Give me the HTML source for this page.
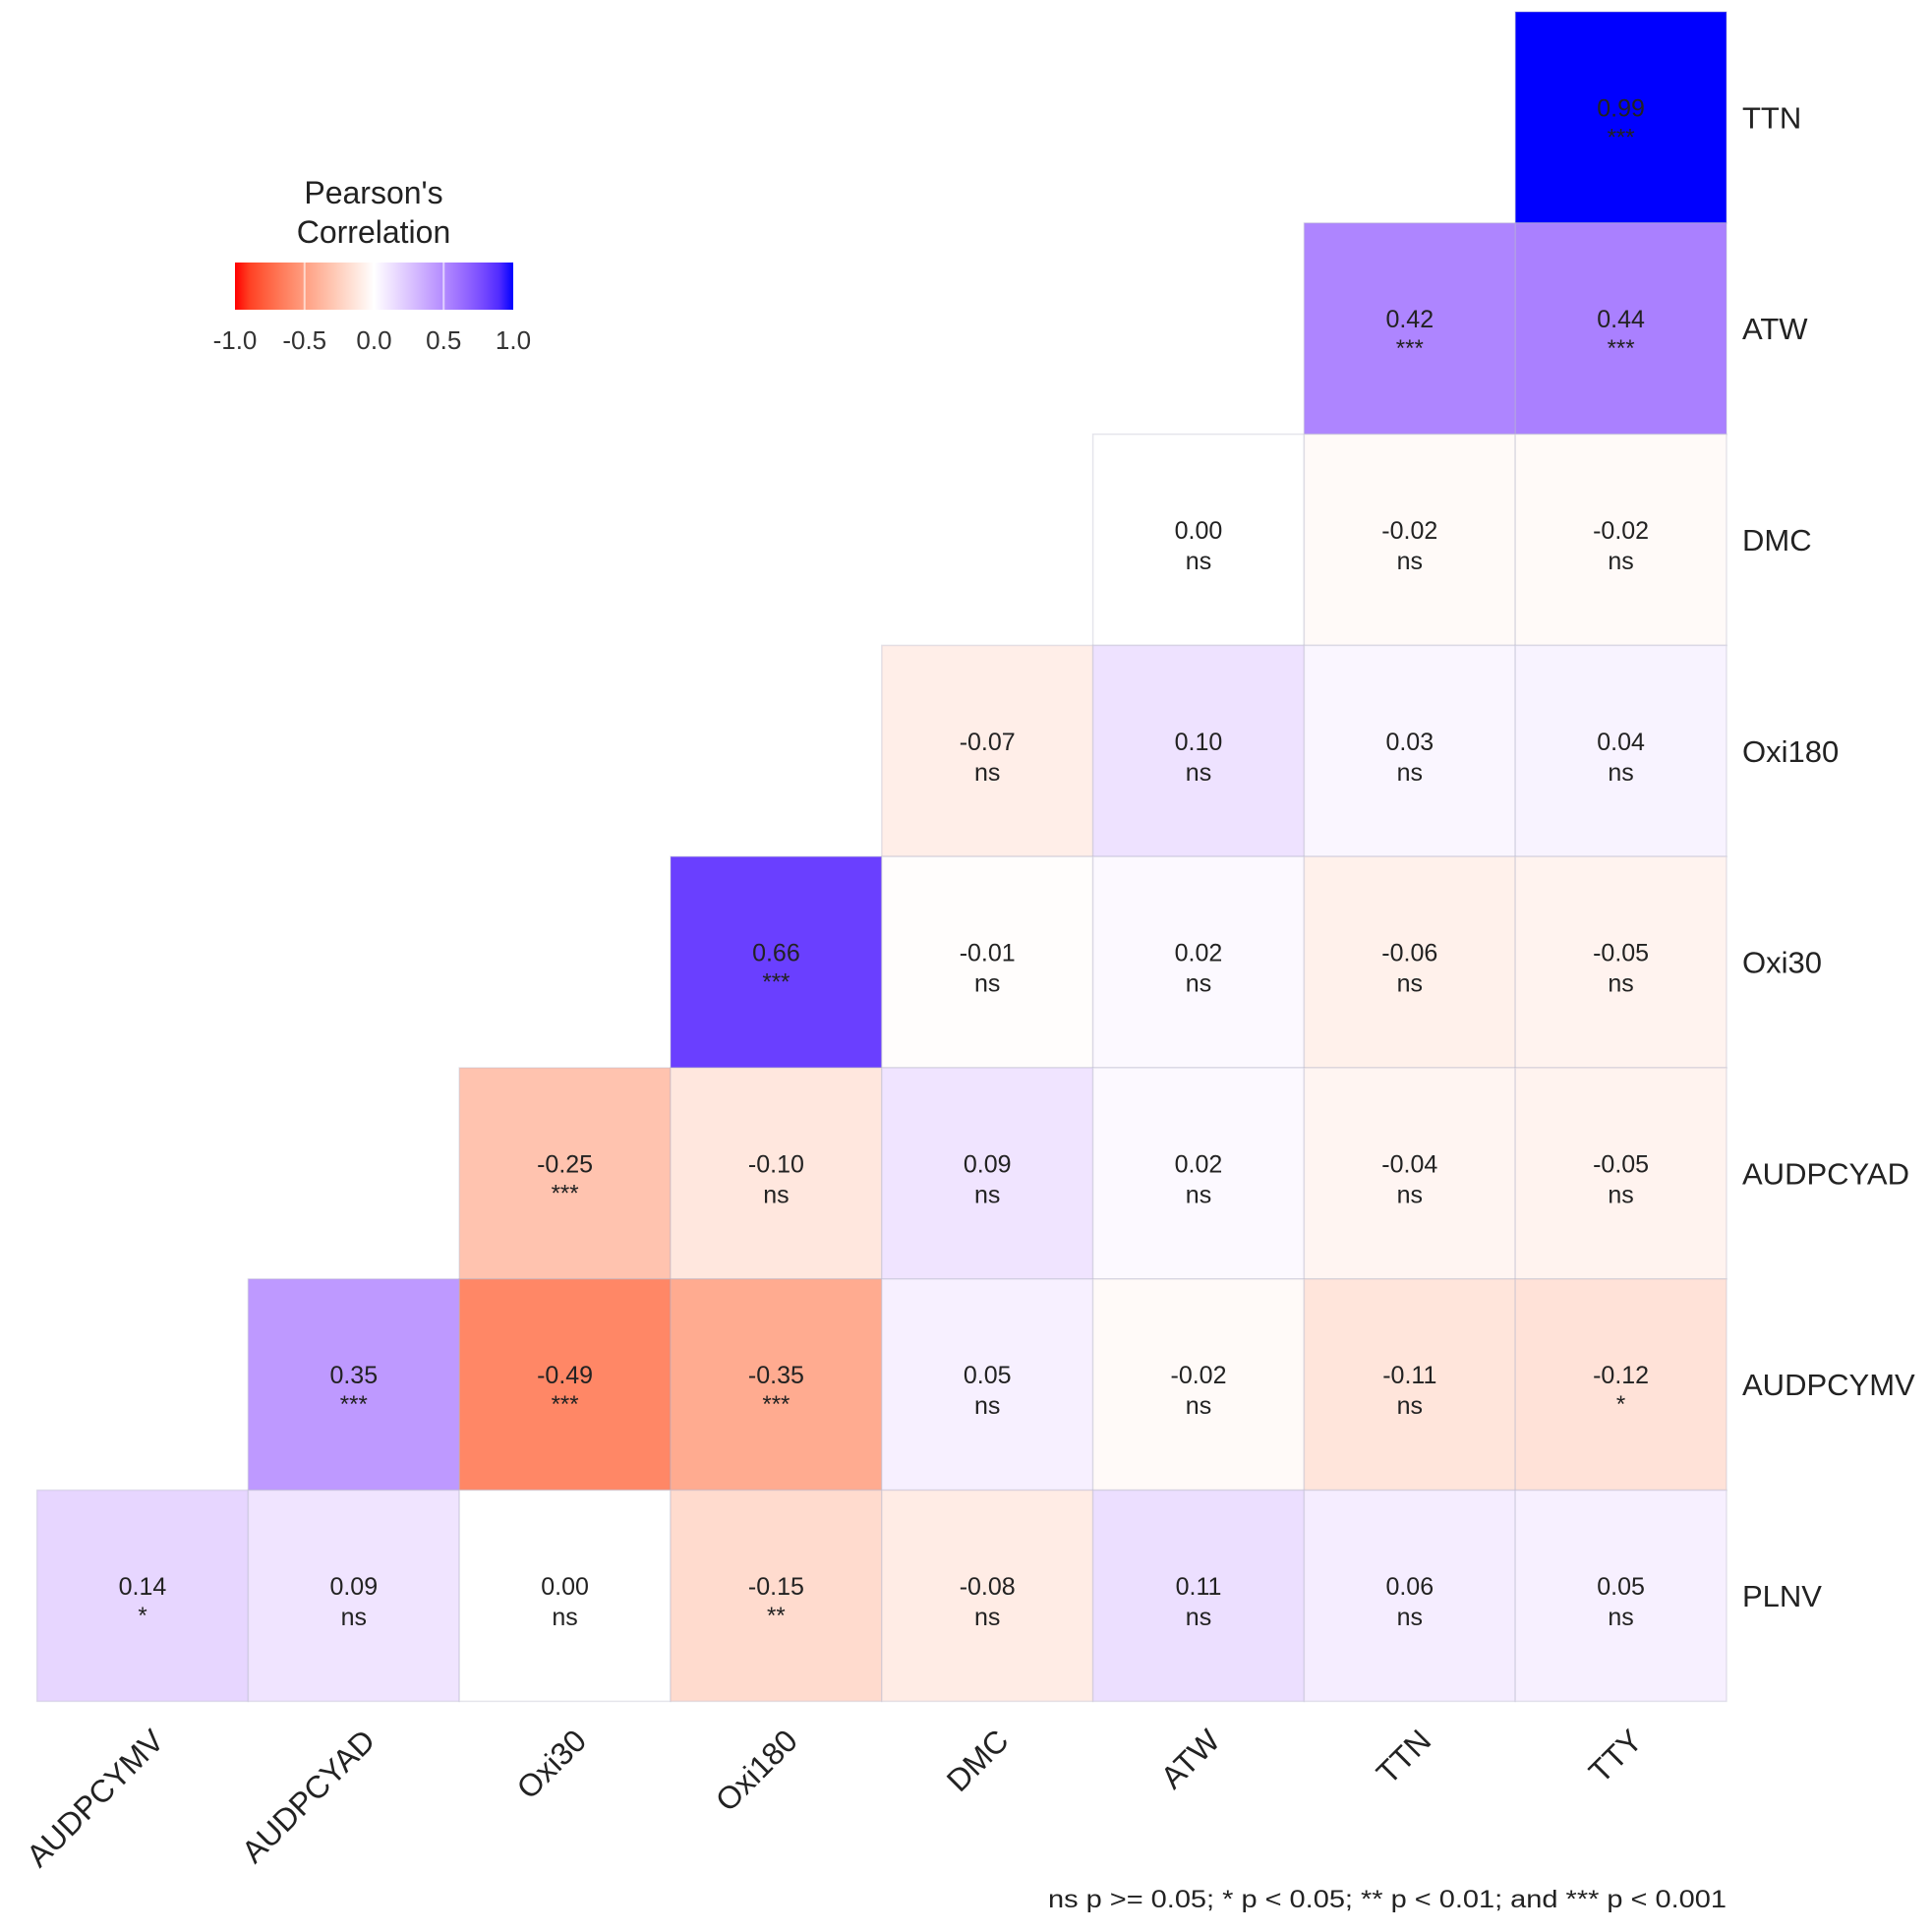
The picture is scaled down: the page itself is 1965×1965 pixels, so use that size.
<!DOCTYPE html>
<html><head><meta charset="utf-8"><style>
html,body{margin:0;padding:0;background:#fff;}
svg{display:block;font-family:"Liberation Sans",sans-serif;}
</style></head><body>
<svg id="chart" width="1965" height="1965" viewBox="0 0 1965 1965" xmlns="http://www.w3.org/2000/svg">
<g id="cells"></g>
<g id="xlabels"></g>
<g id="ylabels"></g>
<g id="legend">
<defs><linearGradient id="grad" x1="0" x2="1" y1="0" y2="0"></linearGradient></defs>
<text x="380" y="207" font-size="32" text-anchor="middle" fill="#222">Pearson's</text>
<text x="380" y="247" font-size="32" text-anchor="middle" fill="#222">Correlation</text>
<rect x="239" y="267" width="283" height="48" fill="url(#grad)"/>
<g id="legticks"></g>
</g>
<text x="1756" y="1940" font-size="25" text-anchor="end" fill="#222" textLength="690" lengthAdjust="spacingAndGlyphs">ns p &gt;= 0.05; * p &lt; 0.05; ** p &lt; 0.01; and *** p &lt; 0.001</text>
</svg>
<script>
const colLabels = ["AUDPCYMV","AUDPCYAD","Oxi30","Oxi180","DMC","ATW","TTN","TTY"];
const rowLabels = ["TTN","ATW","DMC","Oxi180","Oxi30","AUDPCYAD","AUDPCYMV","PLNV"];
const rowTTN = [0.99];
const rowATW = [0.42,0.44];
const rowDMC = [0.00,-0.02,-0.02];
const rowOxi180 = [-0.07,0.10,0.03,0.04];
const rowOxi30 = [0.66,-0.01,0.02,-0.06,-0.05];
const rowAUDPCYAD = [-0.25,-0.10,0.09,0.02,-0.04,-0.05];
const rowAUDPCYMV = [0.35,-0.49,-0.35,0.05,-0.02,-0.11,-0.12];
const rowPLNV = [0.14,0.09,0.00,-0.15,-0.08,0.11,0.06,0.05];
const sigTTN = ["***"];
const sigATW = ["***","***"];
const sigDMC = ["ns","ns","ns"];
const sigOxi180 = ["ns","ns","ns","ns"];
const sigOxi30 = ["***","ns","ns","ns","ns"];
const sigAUDPCYAD = ["***","ns","ns","ns","ns","ns"];
const sigAUDPCYMV = ["***","***","***","ns","ns","ns","*"];
const sigPLNV = ["*","ns","ns","**","ns","ns","ns","ns"];
const legendTicks = [-1.0,-0.5,0.0,0.5,1.0];

const rows=[rowTTN,rowATW,rowDMC,rowOxi180,rowOxi30,rowAUDPCYAD,rowAUDPCYMV,rowPLNV];
const sigs=[sigTTN,sigATW,sigDMC,sigOxi180,sigOxi30,sigAUDPCYAD,sigAUDPCYMV,sigPLNV];
const NS="http://www.w3.org/2000/svg";
const X0=37.6,Y0=12,CW=214.8,CH=214.8;
const xPos=i=>X0+i*CW, yPos=j=>Y0+j*CH;

function toLin(c){c/=255;return c<=0.04045?c/12.92:Math.pow((c+0.055)/1.055,2.4);}
function fromLin(c){c=c<=0.0031308?12.92*c:1.055*Math.pow(c,1/2.4)-0.055;return Math.max(0,Math.min(255,Math.round(c*255)));}
function rgb2lab(r,g,b){r=toLin(r);g=toLin(g);b=toLin(b);
 let x=(r*0.4124+g*0.3576+b*0.1805)/0.95047,y=(r*0.2126+g*0.7152+b*0.0722),z=(r*0.0193+g*0.1192+b*0.9505)/1.08883;
 const f=t=>t>0.008856?Math.cbrt(t):7.787*t+16/116;
 return [116*f(y)-16,500*(f(x)-f(y)),200*(f(y)-f(z))];}
function lab2rgb(L,a,bb){let fy=(L+16)/116,fx=fy+a/500,fz=fy-bb/200;
 const fi=t=>t*t*t>0.008856?t*t*t:(t-16/116)/7.787;
 let x=fi(fx)*0.95047,y=fi(fy),z=fi(fz)*1.08883;
 let r=x*3.2406-y*1.5372-z*0.4986,g=-x*0.9689+y*1.8758+z*0.0415,b=x*0.0557-y*0.2040+z*1.0570;
 return `rgb(${fromLin(r)},${fromLin(g)},${fromLin(b)})`;}
const W=rgb2lab(255,255,255),R=rgb2lab(255,0,0),B=rgb2lab(0,0,255);
function color(v,k){const t=Math.min(1,Math.abs(v)*(k||1));const e=v<0?R:B;
 return lab2rgb(W[0]+(e[0]-W[0])*t,W[1]+(e[1]-W[1])*t,W[2]+(e[2]-W[2])*t);}

const cells=document.getElementById('cells');
rows.forEach((vals,j)=>{
 const start=8-vals.length;
 vals.forEach((v,k)=>{
  const i=start+k;
  const r=document.createElementNS(NS,'rect');
  
  
  r.setAttribute('x',xPos(i));r.setAttribute('y',yPos(j));
  r.setAttribute('width',CW);r.setAttribute('height',CH);
  r.setAttribute('fill',color(v,1.25));r.setAttribute('stroke','rgba(180,180,200,0.35)');r.setAttribute('stroke-width','1.5');
  cells.appendChild(r);
  const cx=xPos(i)+CW/2,cy=yPos(j)+CH/2;
  const t=document.createElementNS(NS,'text');
  
  
  t.setAttribute('x',cx);t.setAttribute('y',cy-1);t.setAttribute('font-size','25');
  t.setAttribute('text-anchor','middle');t.setAttribute('fill','#222');
  t.textContent=v.toFixed(2);cells.appendChild(t);
  const s=document.createElementNS(NS,'text');
  
  
  const sg=sigs[j][k];
  s.setAttribute('x',cx);s.setAttribute('y',sg==='ns'?cy+30:cy+28);s.setAttribute('font-size',sg==='ns'?'25':'24');
  s.setAttribute('text-anchor','middle');s.setAttribute('fill','#222');
  s.textContent=sg;cells.appendChild(s);
 });
});
const yl=document.getElementById('ylabels');
rowLabels.forEach((l,j)=>{
 const t=document.createElementNS(NS,'text');
 
 
 t.setAttribute('x',1772);t.setAttribute('y',yPos(j)+CH/2+11);t.setAttribute('font-size','31');t.setAttribute('fill','#222');
 t.textContent=l;yl.appendChild(t);
});
const xl=document.getElementById('xlabels');
colLabels.forEach((l,i)=>{
 const t=document.createElementNS(NS,'text');
 
 
 const ax=xPos(i)+CW/2+8,ay=1757;
 t.setAttribute('transform',`translate(${ax},${ay}) rotate(-45)`);
 t.setAttribute('text-anchor','end');t.setAttribute('font-size','32');t.setAttribute('fill','#222');
 t.setAttribute('dy','22');
 t.textContent=l;xl.appendChild(t);
});
const grad=document.getElementById('grad');
for(let k=0;k<=20;k++){const v=-1+k/10;const st=document.createElementNS(NS,'stop');
 st.setAttribute('offset',(k/20));st.setAttribute('stop-color',color(v,1));grad.appendChild(st);}
const lt=document.getElementById('legticks');
legendTicks.forEach(v=>{
 const x=239+(v+1)/2*283;
 const t=document.createElementNS(NS,'text');
 
 
 t.setAttribute('x',x);t.setAttribute('y',355);t.setAttribute('font-size','26');t.setAttribute('text-anchor','middle');t.setAttribute('fill','#333');
 t.textContent=v.toFixed(1);lt.appendChild(t);
 if(v>-1&&v<1){const ln=document.createElementNS(NS,'line');
 
 
 ln.setAttribute('x1',x);ln.setAttribute('x2',x);ln.setAttribute('y1',267);ln.setAttribute('y2',315);
 ln.setAttribute('stroke','rgba(255,255,255,0.6)');ln.setAttribute('stroke-width','2');lt.appendChild(ln);}
});
</script>
</body></html>
